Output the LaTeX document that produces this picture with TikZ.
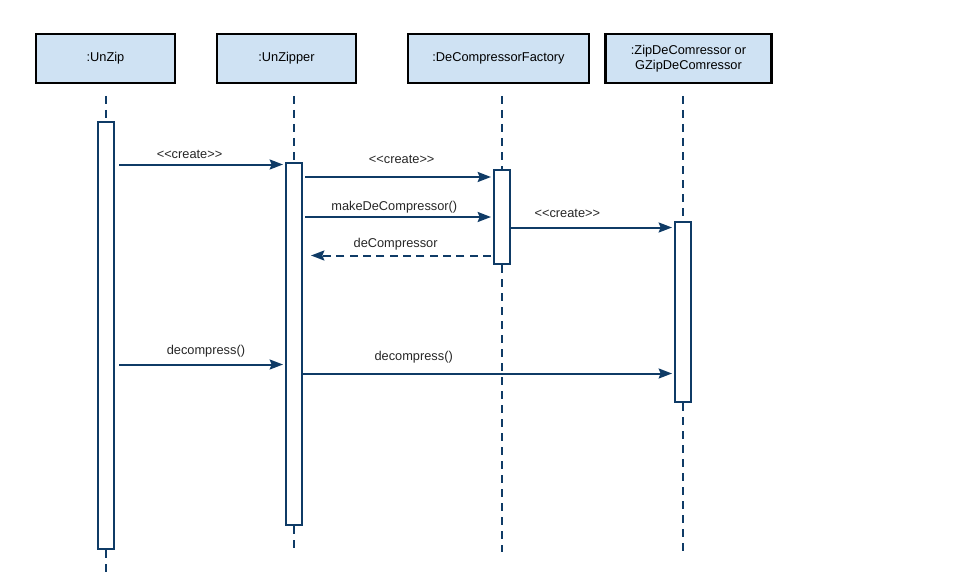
\documentclass[tikz,border=0pt]{standalone}
\usepackage{fontspec}
\setmainfont{Liberation Sans}
\usepackage{xcolor}
\usetikzlibrary{arrows.meta,calc,positioning}
\definecolor{umlblue}{HTML}{0F3B66}
\definecolor{headfill}{HTML}{CFE2F3}

\begin{document}
\begin{tikzpicture}[x=0.75pt,y=-0.75pt,>={Stealth[length=10pt,width=7.5pt,inset=1.5pt]},font=\fontsize{9.6}{11.25}\selectfont]
\tikzstyle{head}=[draw=black,line width=1.7pt,fill=headfill,minimum height=36.75pt,align=center,inner sep=2pt]
\tikzstyle{act}=[draw=umlblue,line width=1.5pt,fill=white,minimum width=12pt,inner sep=0pt]
\tikzstyle{life}=[draw=umlblue,line width=1.5pt,dash pattern=on 6pt off 4.5pt]
\tikzstyle{msg}=[draw=umlblue,line width=1.5pt,->]
\tikzstyle{reply}=[msg,dash pattern=on 6pt off 4pt]
\tikzstyle{lbl}=[text=black!85,inner sep=0pt]

\useasboundingbox (0,0) rectangle (962,581);

% objects
\node[head,minimum width=104.25pt] (unzip) at (105.5,58.5) {:UnZip};
\node[head,minimum width=104.25pt] (unzipper) at (286.5,58.5) {:UnZipper};
\node[head,minimum width=135.75pt] (factory) at (498.5,58.5) {:DeCompressorFactory};
\node[head,minimum width=124.5pt] (zipdec) at (688.5,58.5) {:ZipDeComressor or\\GZipDeComressor};

% activations
\node[act,minimum height=320.25pt] (actunzip) at (106,335.5) {};
\node[act,minimum height=271.5pt] (actunzipper) at (294,344) {};
\node[act,minimum height=70.5pt] (actfactory) at (502,217) {};
\node[act,minimum height=135pt] (actzipdec) at (683,312) {};

% lifelines
\coordinate (topunzip) at (106,96);
\coordinate (endunzip) at (106,574);
\coordinate (topunzipper) at (294,96);
\coordinate (endunzipper) at (294,550);
\coordinate (topfactory) at (502,96);
\coordinate (endfactory) at (502,552);
\coordinate (topzipdec) at (683,96);
\coordinate (endzipdec) at (683,552);

\path[life] (topunzip) -- (actunzip.north) (actunzip.south) -- (endunzip);
\path[life] (topunzipper) -- (actunzipper.north) (actunzipper.south) -- (endunzipper);
\path[life] (topfactory) -- (actfactory.north) (actfactory.south) -- (endfactory);
\path[life] (topzipdec) -- (actzipdec.north) (actzipdec.south) -- (endzipdec);

% messages
\coordinate (m1) at (0,164.5);
\coordinate (m2) at (0,177);
\coordinate (m3) at (0,217);
\coordinate (m4) at (0,255.5);
\coordinate (m5) at (0,227.5);
\coordinate (m6) at (0,364.5);
\coordinate (m7) at (0,373.5);

\draw[msg] ($(actunzip.east |- m1)+(4,0)$) -- ($(actunzipper.west |- m1)+(-2,0)$)
	node[lbl,pos=.43,yshift=7.5pt] {<\kern0pt<create>\kern0pt>};
\draw[msg] ($(actunzipper.east |- m2)+(2,0)$) -- ($(actfactory.west |- m2)+(-2,0)$)
	node[lbl,pos=.52,yshift=13.5pt] {<\kern0pt<create>\kern0pt>};
\draw[msg] ($(actunzipper.east |- m3)+(2,0)$) -- ($(actfactory.west |- m3)+(-2,0)$)
	node[lbl,pos=.48,yshift=7.5pt] {makeDeCompressor()};
\draw[reply] ($(actfactory.west |- m4)+(-2,0)$) -- ($(actunzipper.east |- m4)+(8,0)$)
	node[lbl,pos=.53,yshift=8.25pt] {deCompressor};
\draw[msg] (actfactory.east |- m5) -- ($(actzipdec.west |- m5)+(-2,0)$)
	node[lbl,pos=.35,yshift=10.5pt] {<\kern0pt<create>\kern0pt>};
\draw[msg] ($(actunzip.east |- m6)+(4,0)$) -- ($(actunzipper.west |- m6)+(-2,0)$)
	node[lbl,pos=.53,yshift=9.75pt] {decompress()};
\draw[msg] (actunzipper.east |- m7) -- ($(actzipdec.west |- m7)+(-2,0)$)
	node[lbl,pos=.30,yshift=12pt] {decompress()};
\end{tikzpicture}
\end{document}
